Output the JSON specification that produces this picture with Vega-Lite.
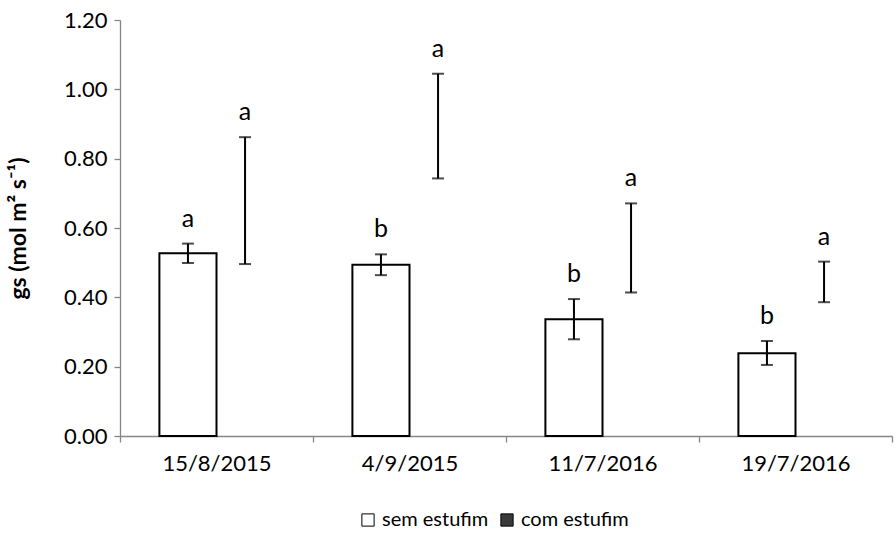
{
  "$schema": "https://vega.github.io/schema/vega-lite/v6.json",
  "autosize": "none",
  "width": 772,
  "height": 416,
  "padding": {"left": 120, "top": 20, "right": 4, "bottom": 101},
  "background": "white",
  "config": {
    "font": "Lato",
    "view": {"stroke": null},
    "axis": {"labelFont": "Lato", "titleFont": "Lato", "labelColor": "black", "titleColor": "black"}
  },
  "data": {
    "values": [
      {"date": "15/8/2015", "series": "sem estufim", "mean": 0.527, "lo": 0.499, "hi": 0.555, "letter": "a"},
      {"date": "15/8/2015", "series": "com estufim", "mean": 0.679, "lo": 0.496, "hi": 0.862, "letter": "a"},
      {"date": "4/9/2015", "series": "sem estufim", "mean": 0.494, "lo": 0.464, "hi": 0.524, "letter": "b"},
      {"date": "4/9/2015", "series": "com estufim", "mean": 0.894, "lo": 0.743, "hi": 1.045, "letter": "a"},
      {"date": "11/7/2016", "series": "sem estufim", "mean": 0.337, "lo": 0.279, "hi": 0.395, "letter": "b"},
      {"date": "11/7/2016", "series": "com estufim", "mean": 0.543, "lo": 0.414, "hi": 0.671, "letter": "a"},
      {"date": "19/7/2016", "series": "sem estufim", "mean": 0.2385, "lo": 0.205, "hi": 0.274, "letter": "b"},
      {"date": "19/7/2016", "series": "com estufim", "mean": 0.445, "lo": 0.386, "hi": 0.503, "letter": "a"}
    ]
  },
  "encoding": {
    "x": {
      "field": "date", "type": "nominal", "sort": null,
      "scale": {"paddingInner": 0, "paddingOuter": 0},
      "axis": {
        "title": null, "labelAngle": 0, "labelFontSize": 22, "tickBand": "extent",
        "domainColor": "#868686", "tickColor": "#868686", "tickSize": 6, "labelPadding": 11,
        "domainWidth": 1.3, "tickWidth": 1.3
      }
    },
    "xOffset": {
      "field": "series", "type": "nominal",
      "sort": ["sem estufim", "com estufim"],
      "scale": {"domain": ["sem estufim", "com estufim"], "paddingInner": 0, "paddingOuter": 0.69}
    }
  },
  "layer": [
    {
      "transform": [{"filter": "datum.series == 'sem estufim'"}],
      "mark": {"type": "bar", "stroke": "black", "strokeWidth": 2},
      "encoding": {
        "y": {
          "field": "mean", "type": "quantitative",
          "scale": {"domain": [0, 1.2], "nice": false},
          "axis": {
            "title": "gs (mol m² s⁻¹)", "titleFontSize": 23, "titleFontWeight": "bold", "titlePadding": 33,
            "values": [0, 0.2, 0.4, 0.6, 0.8, 1.0, 1.2], "format": ".2f",
            "labelFontSize": 22, "grid": false, "domainColor": "#868686", "tickColor": "#868686",
            "tickSize": 6, "labelPadding": 7, "domainWidth": 1.3, "tickWidth": 1.3
          }
        },
        "fill": {
          "field": "series", "type": "nominal",
          "scale": {"domain": ["sem estufim", "com estufim"], "range": ["white", "#3a3a3a"]},
          "legend": {
            "title": null, "orient": "none", "legendX": 238, "legendY": 490,
            "direction": "horizontal", "symbolType": "square", "symbolSize": 150,
            "symbolStrokeColor": "black", "symbolStrokeWidth": 1,
            "labelFontSize": 20, "labelFont": "Lato", "labelColor": "black",
            "labelOffset": 4, "columnPadding": 8
          }
        }
      }
    },
    {
      "mark": {"type": "rule", "color": "black", "strokeWidth": 2},
      "encoding": {
        "y": {"field": "lo", "type": "quantitative"},
        "y2": {"field": "hi"}
      }
    },
    {
      "mark": {"type": "tick", "color": "black", "thickness": 2, "size": 12, "orient": "horizontal"},
      "encoding": {"y": {"field": "lo", "type": "quantitative"}}
    },
    {
      "mark": {"type": "tick", "color": "black", "thickness": 2, "size": 12, "orient": "horizontal"},
      "encoding": {"y": {"field": "hi", "type": "quantitative"}}
    },
    {
      "mark": {"type": "text", "fontSize": 25, "font": "Lato", "color": "black", "baseline": "alphabetic", "dy": -17},
      "encoding": {
        "y": {"field": "hi", "type": "quantitative"},
        "text": {"field": "letter"}
      }
    }
  ]
}
